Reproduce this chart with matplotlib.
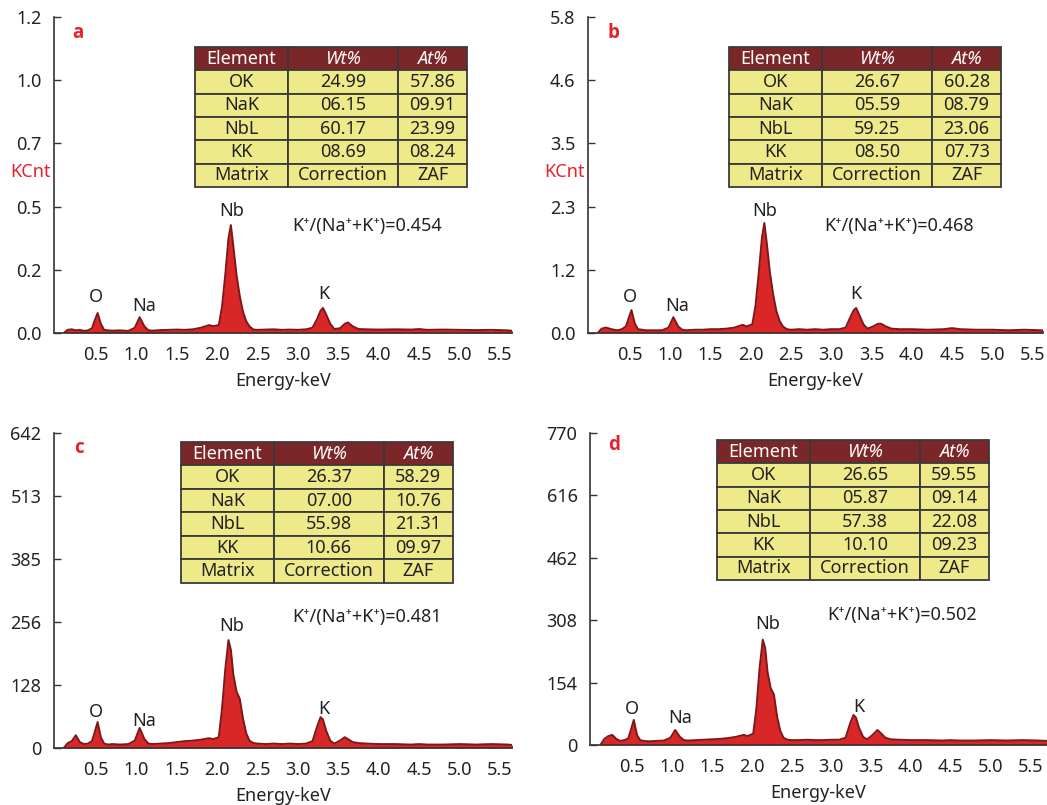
import numpy as np
import matplotlib
matplotlib.use("Agg")
import matplotlib.pyplot as plt

plt.rcParams['font.family'] = ['Noto Sans', 'DejaVu Sans']

# energy grid (keV) shared by the four spectra
energy = [0.10, 0.15, 0.20, 0.25, 0.30, 0.35, 0.40, 0.45, 0.48, 0.52, 0.56, 0.60,
          0.65, 0.70, 0.80, 0.90, 0.98, 1.04, 1.10, 1.15, 1.20, 1.30, 1.40, 1.50,
          1.60, 1.70, 1.80, 1.90, 1.95, 2.02, 2.06, 2.10, 2.14, 2.17, 2.20, 2.24,
          2.28, 2.32, 2.36, 2.40, 2.45, 2.50, 2.60, 2.70, 2.80, 2.90, 3.00, 3.10,
          3.18, 3.24, 3.28, 3.31, 3.35, 3.40, 3.45, 3.52, 3.58, 3.62, 3.68, 3.75,
          3.85, 4.00, 4.20, 4.40, 4.50, 4.60, 4.80, 5.00, 5.20, 5.40, 5.60, 5.72]

counts_a = [0.0, 0.012, 0.014, 0.010, 0.012, 0.008, 0.010, 0.018, 0.045, 0.076, 0.035, 0.012,
            0.010, 0.009, 0.010, 0.008, 0.020, 0.060, 0.025, 0.010, 0.009, 0.011, 0.012, 0.013,
            0.012, 0.014, 0.020, 0.030, 0.026, 0.030, 0.100, 0.220, 0.360, 0.410, 0.330, 0.220,
            0.140, 0.080, 0.045, 0.025, 0.013, 0.012, 0.013, 0.014, 0.012, 0.013, 0.012, 0.014,
            0.020, 0.055, 0.085, 0.095, 0.070, 0.035, 0.015, 0.018, 0.035, 0.040, 0.025, 0.015,
            0.014, 0.013, 0.014, 0.013, 0.015, 0.012, 0.013, 0.012, 0.011, 0.012, 0.010, 0.006]

counts_b = [0.0, 0.08, 0.10, 0.08, 0.06, 0.05, 0.07, 0.12, 0.25, 0.42, 0.18, 0.07,
            0.06, 0.05, 0.05, 0.05, 0.10, 0.29, 0.12, 0.06, 0.05, 0.06, 0.06, 0.07,
            0.07, 0.08, 0.10, 0.15, 0.12, 0.16, 0.50, 1.10, 1.75, 2.02, 1.65, 1.10,
            0.70, 0.40, 0.22, 0.12, 0.07, 0.06, 0.07, 0.06, 0.07, 0.06, 0.07, 0.07,
            0.10, 0.30, 0.42, 0.46, 0.33, 0.16, 0.08, 0.12, 0.17, 0.17, 0.12, 0.08,
            0.07, 0.07, 0.06, 0.07, 0.09, 0.07, 0.06, 0.06, 0.05, 0.06, 0.05, 0.04]

counts_c = [0, 10, 14, 26, 12, 8, 9, 14, 30, 53, 22, 9,
            7, 8, 7, 8, 15, 41, 18, 9, 8, 9, 10, 12,
            14, 15, 17, 20, 18, 22, 80, 160, 220, 200, 150, 115,
            100, 60, 30, 15, 10, 9, 8, 9, 8, 9, 8, 9,
            14, 45, 63, 58, 35, 15, 9, 15, 22, 18, 12, 10,
            9, 8, 8, 7, 8, 7, 7, 8, 7, 8, 7, 5]

counts_d = [0, 15, 22, 25, 15, 10, 12, 16, 35, 62, 25, 12,
            10, 9, 10, 11, 18, 37, 20, 12, 11, 12, 13, 14,
            15, 17, 20, 25, 22, 28, 90, 190, 260, 240, 180, 140,
            125, 70, 35, 18, 13, 12, 12, 13, 12, 12, 13, 13,
            18, 55, 74, 68, 42, 20, 14, 25, 37, 30, 18, 14,
            13, 12, 12, 11, 12, 11, 11, 12, 11, 12, 11, 10]

y_max = [1.2, 5.8, 642, 770]
ytick_labels = [["0.0", "0.2", "0.5", "0.7", "1.0", "1.2"],
                ["0.0", "1.2", "2.3", "3.5", "4.6", "5.8"],
                ["0", "128", "256", "385", "513", "642"],
                ["0", "154", "308", "462", "616", "770"]]
xticks = [0.5, 1.0, 1.5, 2.0, 2.5, 3.0, 3.5, 4.0, 4.5, 5.0, 5.5]
panel_letters = ["a", "b", "c", "d"]
peak_names = ["O", "Na", "Nb", "K"]
ratios = ["0.454", "0.468", "0.481", "0.502"]

col_labels = ["Element", "Wt%", "At%"]
elements = ["OK", "NaK", "NbL", "KK", "Matrix"]
wt_a = ["24.99", "06.15", "60.17", "08.69", "Correction"]
at_a = ["57.86", "09.91", "23.99", "08.24", "ZAF"]
wt_b = ["26.67", "05.59", "59.25", "08.50", "Correction"]
at_b = ["60.28", "08.79", "23.06", "07.73", "ZAF"]
wt_c = ["26.37", "07.00", "55.98", "10.66", "Correction"]
at_c = ["58.29", "10.76", "21.31", "09.97", "ZAF"]
wt_d = ["26.65", "05.87", "57.38", "10.10", "Correction"]
at_d = ["59.55", "09.14", "22.08", "09.23", "ZAF"]

counts = [counts_a, counts_b, counts_c, counts_d]
wts = [wt_a, wt_b, wt_c, wt_d]
ats = [at_a, at_b, at_c, at_d]

W, H = 1047, 805
# axes boxes in pixels: left, right, top, bottom
boxes = [(54, 512, 17, 333), (588, 1043, 17, 333),
         (54, 512, 433, 748), (590, 1047, 433, 745)]
xlims = [(-0.02, 5.65), (-0.02, 5.63), (-0.02, 5.65), (-0.03, 5.71)]
table_boxes = [(0.308, 0.462, 0.594, 0.443), (0.310, 0.462, 0.598, 0.443),
               (0.277, 0.524, 0.594, 0.448), (0.278, 0.529, 0.595, 0.449)]
ratio_pos = [(0.520, 0.339), (0.519, 0.339), (0.520, 0.416), (0.519, 0.417)]
letter_pos = [(0.052, 0.949), (0.055, 0.949), (0.055, 0.952), (0.053, 0.962)]
peak_pos = [(0.092, 0.115), (0.197, 0.087), (0.389, 0.387), (0.589, 0.123)]

red_txt = '#e8202a'
fill_c = '#d92626'
edge_c = '#7e1818'
spine_c = '#333333'

fig = plt.figure(figsize=(W / 100, H / 100), dpi=100)

for i in range(4):
    l, r, t, b = boxes[i]
    ax = fig.add_axes([l / W, (H - b) / H, (r - l) / W, (b - t) / H])
    e = np.array(energy)
    c = np.array(counts[i])
    ax.fill_between(e, 0, c, color=fill_c, lw=0, zorder=2)
    ax.plot(e, c, color=edge_c, lw=1.4, zorder=3)

    ax.set_xlim(*xlims[i])
    ax.set_ylim(0, y_max[i])
    ax.set_yticks(np.linspace(0, y_max[i], 6))
    ax.set_yticklabels(ytick_labels[i])
    ax.set_xticks(xticks)
    ax.set_xticklabels([f"{v:.1f}" for v in xticks])
    ax.tick_params(axis='y', direction='in', length=5, width=1, pad=9,
                   labelsize=13, colors=spine_c, labelcolor='#222222')
    ax.tick_params(axis='x', direction='in', length=3, width=1, pad=9,
                   labelsize=13, colors=spine_c, labelcolor='#222222')
    for s in ['top', 'right']:
        ax.spines[s].set_visible(False)
    for s in ['left', 'bottom']:
        ax.spines[s].set_color(spine_c)
        ax.spines[s].set_linewidth(1.2)
    ax.set_xlabel("Energy-keV", fontsize=13, color='#222222', labelpad=6)

    if i < 2:
        ax.text(-0.052, 0.509, "KCnt", transform=ax.transAxes, color=red_txt,
                fontsize=13, ha='center', va='center')

    ax.text(*letter_pos[i], panel_letters[i], transform=ax.transAxes,
            color=red_txt, fontsize=13.5, fontweight='bold',
            family=['Open Sans', 'DejaVu Sans'], ha='center', va='center')

    for name, (px, py) in zip(peak_names, peak_pos):
        ax.text(px, py, name, transform=ax.transAxes, fontsize=13,
                color='#222222', ha='center', va='center')

    ax.text(*ratio_pos[i], "K\u207a/(Na\u207a+K\u207a)=" + ratios[i],
            transform=ax.transAxes, fontsize=13, color='#222222',
            ha='left', va='center')

    rows = [[el, w, a] for el, w, a in zip(elements, wts[i], ats[i])]
    tb = ax.table(cellText=rows, colLabels=col_labels,
                  colWidths=[0.342, 0.404, 0.254],
                  cellLoc='center', bbox=table_boxes[i], zorder=5)
    tb.auto_set_font_size(False)
    tb.set_fontsize(13)
    for (rr, cc), cell in tb.get_celld().items():
        cell.set_edgecolor('#3a3a3a')
        cell.set_linewidth(1.3)
        if rr == 0:
            cell.set_facecolor('#7b2629')
            cell.get_text().set_color('white')
            if cc > 0:
                cell.get_text().set_style('italic')
        else:
            cell.set_facecolor('#eeea8a')
            cell.get_text().set_color('#222222')

fig.savefig("out.png", dpi=100)
